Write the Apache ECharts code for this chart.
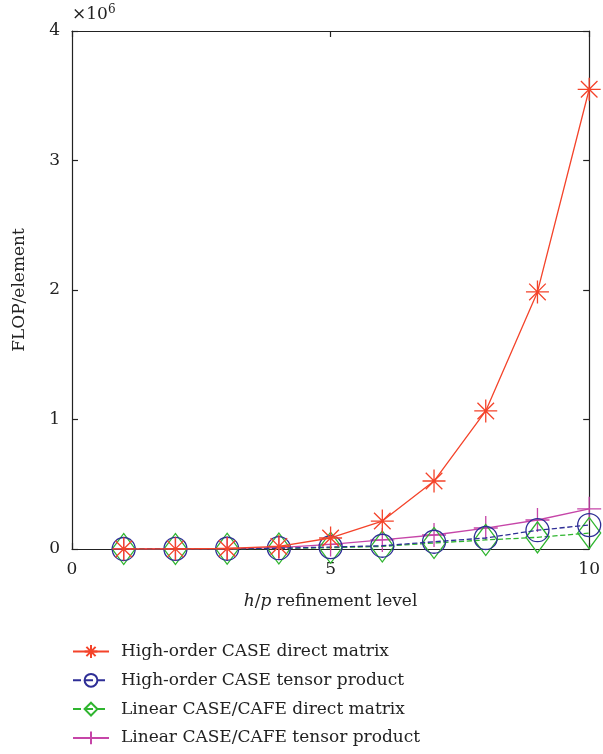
<!DOCTYPE html>
<html><head><meta charset="utf-8">
<script src="https://cdn.jsdelivr.net/npm/echarts@6/dist/echarts.min.js"></script>
<style>html,body{margin:0;padding:0;background:#fff}#c{width:603px;height:754px}</style>
</head><body><div id="c"></div>
<script>
const levels = [1,2,3,4,5,6,7,8,9,10];
const seriesNames = [
  'High-order CASE direct matrix',
  'High-order CASE tensor product',
  'Linear CASE/CAFE direct matrix',
  'Linear CASE/CAFE tensor product'
];
const highDirect = [0.0002,0.001,0.004,0.02,0.085,0.216,0.525,1.066,1.985,3.55];
const highTensor = [0.0001,0.0005,0.002,0.006,0.015,0.025,0.056,0.085,0.145,0.185];
const linDirect  = [0.0001,0.0004,0.0015,0.004,0.01,0.02,0.046,0.07,0.09,0.123];
const linTensor  = [0.0002,0.001,0.003,0.01,0.035,0.07,0.108,0.162,0.224,0.31];
const yTicks = [0,1,2,3,4];
const xTicks = [0,5,10];

const font = 'DejaVu Serif';
const fs = 17;
const colors = ['#f4432a','#2e2e96','#2fb52f','#c645a8'];
const asterisk = 'path://M0,-1L0,1M-1,0L1,0M-0.72,-0.72L0.72,0.72M-0.72,0.72L0.72,-0.72';
const plus = 'path://M0,-1L0,1M-1,0L1,0';
const diamond = 'path://M0,-1L0.75,0L0,1L-0.75,0Z';
const symbols = [asterisk,'circle',diamond,plus];
const sizes = [[23,23],[23,23],[23,31],[24,24]];
const dashes = ['solid','dashed','dashed','solid'];
const data = [highDirect,highTensor,linDirect,linTensor];

const chart = echarts.init(document.getElementById('c'));
const axisLine = {show:true,onZero:false,lineStyle:{color:'#222',width:1.2}};
const tick = {show:true,inside:true,length:6,lineStyle:{color:'#222',width:1.2}};
chart.setOption({
  animation:false,
  textStyle:{fontFamily:font},
  grid:{left:72,right:11,top:31,bottom:205,show:false},
  xAxis:[{
    type:'value',min:0,max:10,interval:5,
    axisLine:axisLine,axisTick:tick,splitLine:{show:false},
    axisLabel:{fontFamily:font,fontSize:fs,color:'#222',margin:12,
      formatter:v=>xTicks.includes(v)?String(v):''},
    name:'{i|h}/{i|p} refinement level',nameLocation:'middle',nameGap:44,
    nameTextStyle:{fontFamily:font,fontSize:fs,color:'#222',
      rich:{i:{fontFamily:font,fontSize:fs,fontStyle:'italic',color:'#222'}}}
  },{
    type:'value',min:0,max:10,interval:5,position:'top',
    axisLine:axisLine,axisTick:tick,
    axisLabel:{show:false},splitLine:{show:false}
  }],
  yAxis:[{
    type:'value',min:0,max:4,interval:1,
    axisLine:axisLine,axisTick:tick,splitLine:{show:false},
    axisLabel:{fontFamily:font,fontSize:fs,color:'#222',margin:12,
      formatter:v=>yTicks.includes(v)?String(v):''},
    name:'FLOP/element',nameLocation:'middle',nameGap:44,
    nameTextStyle:{fontFamily:font,fontSize:fs,color:'#222'}
  },{
    type:'value',min:0,max:4,interval:1,position:'right',
    axisLine:axisLine,axisTick:tick,
    axisLabel:{show:false},splitLine:{show:false}
  }],
  legend:{
    orient:'vertical',left:67,top:638,height:115,itemWidth:36,itemHeight:16,itemGap:11.8,
    textStyle:{fontFamily:font,fontSize:fs,color:'#222',padding:[0,0,0,7]},
    data:seriesNames
  },
  graphic:[{
    type:'text',left:72,top:4,
    style:{text:'×10{s|6}',fontFamily:font,fontSize:fs,fill:'#222',
      rich:{s:{fontFamily:font,fontSize:12,verticalAlign:'top',padding:[0,0,10,0]}}}
  }],
  series:data.map((d,i)=>({
    name:seriesNames[i],type:'line',
    data:levels.map((x,j)=>[x,d[j]]),
    symbol:symbols[i],symbolSize:sizes[i],
    showAllSymbol:true,clip:false,
    lineStyle:{color:colors[i],width:1.3,type:dashes[i]},
    itemStyle:{color:'rgba(0,0,0,0)',borderColor:colors[i],borderWidth:1.3},
    emphasis:{disabled:true},
    z:10-i
  }))
});
</script></body></html>
